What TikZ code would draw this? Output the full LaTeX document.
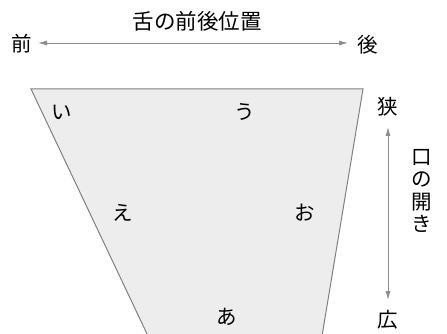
\documentclass[tikz,border=0pt]{standalone}
\usepackage{fontspec}
\newfontfamily\jp{Noto Sans CJK JP}
\usetikzlibrary{arrows.meta}
\begin{document}
\begin{tikzpicture}[x=1pt,y=-1pt,
  lbl/.style={font=\jp\fontsize{20.5}{22}\selectfont, inner sep=0pt, text=black},
  axis/.style={draw=black!45, line width=0.9pt, -{Latex[length=9pt,width=5pt]}},
  region/.style={draw=black!50, fill=black!7, line width=1pt}]
\useasboundingbox (0,0) rectangle (447,334);
\path[region] (31,89) -- (363,89) -- (322,336) -- (148,336) -- cycle;
\node[lbl, font=\jp\fontsize{21.5}{23}\selectfont] (title) at (197,21) {舌の前後位置};
\node[lbl] (front) at (22,44) {前};
\node[lbl] (back) at (368,45) {後};
\coordinate (f1) at (38,43);
\coordinate (b1) at (348,43);
\draw[axis] (200,43) -- (f1);
\draw[axis] (200,43) -- (b1);
\node[lbl] (narrow) at (388,107) {狭};
\node[lbl] (wide) at (388,320) {広};
\coordinate (n1) at (388,127);
\coordinate (w1) at (388,300);
\draw[axis] (388,210) -- (n1);
\draw[axis] (388,210) -- (w1);
\node[lbl, align=center, font=\jp\fontsize{20.5}{22.3}\selectfont] (open) at (422,191) {口\\の\\開\\き};
\node[lbl] (i) at (62,112) {い};
\node[lbl] (u) at (245,112) {う};
\node[lbl] (e) at (123,213) {え};
\node[lbl] (o) at (305,213) {お};
\node[lbl] (a) at (227,317) {あ};
\end{tikzpicture}
\end{document}
